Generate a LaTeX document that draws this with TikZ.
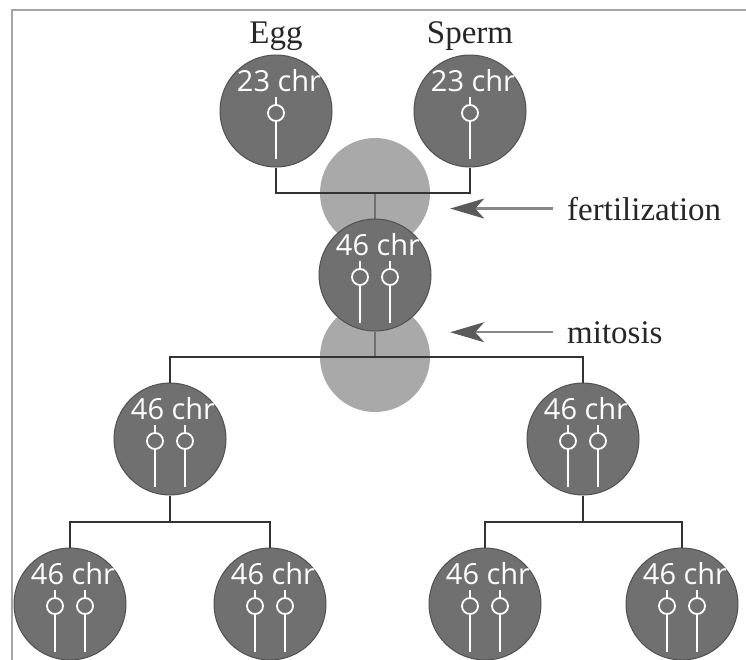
\documentclass[tikz,border=0pt]{standalone}
\usepackage{fontspec}
\setmainfont{Liberation Serif}
\newfontfamily\chrfont{Open Sans}
\usepackage{tikz}
\usetikzlibrary{arrows.meta,calc,backgrounds}
\definecolor{cellFill}{RGB}{112,112,112}
\definecolor{cellStroke}{RGB}{80,80,80}
\definecolor{fuseFill}{RGB}{136,136,136}
\definecolor{frameGray}{RGB}{165,165,165}
\definecolor{pointerGray}{RGB}{135,135,135}
\definecolor{pointerHead}{RGB}{90,90,90}
\colorlet{ink}{black!80}
\tikzset{
  cell/.style={
    circle,
    draw=cellStroke,
    fill=cellFill,
    line width=1pt,
    minimum size=112pt,
    inner sep=0pt
  },
  fuse/.style={
    circle,
    fill=fuseFill,
    fill opacity=0.72,
    minimum size=110pt,
    inner sep=0pt
  },
  count/.style={font=\chrfont\fontsize{29}{32}\selectfont, text=white, inner sep=0pt, anchor=base},
  chromo/.style={draw=white, line width=1.8pt},
  link/.style={draw=ink, line width=2.2pt},
  pointer/.style={-{Stealth[length=34pt,width=20pt,inset=9pt,color=pointerHead]}, draw=pointerGray, line width=2.2pt},
  tag/.style={font=\fontsize{33}{36}\selectfont, text=black!85, inner sep=0pt}
}
% one chromosome inside cell #1, moved sideways by #2
\newcommand{\ChromoAt}[2]{%
  \draw[chromo] ($(#1)+(#2,-14)$) -- ($(#1)+(#2,-6)$)
                ($(#1)+(#2,10)$) -- ($(#1)+(#2,48)$);
  \draw[chromo] ($(#1)+(#2,2)$) circle[radius=8pt];
}
\newcommand{\Haploid}[1]{%
  \node[count] (#1num) at ($(#1)+(3,-20)$) {23 chr};
  \ChromoAt{#1}{0}
}
\newcommand{\Diploid}[1]{%
  \node[count] (#1num) at ($(#1)+(3,-20)$) {46 chr};
  \ChromoAt{#1}{-15}\ChromoAt{#1}{15}
}

\begin{document}
\begin{tikzpicture}[x=1pt,y=-1pt]
  \useasboundingbox (0,0) rectangle (746,659);
  \clip (0,0) rectangle (746,659);
  \draw[frameGray, line width=2pt] (12,665) -- (12,10) -- (750,10);

  % gametes
  \node[cell] (egg) at (276,111) {};
  \node[cell] (sperm) at (470,111) {};
  \node[tag, anchor=base] (eggtag) at (276,43) {Egg};
  \node[tag, anchor=base] (spermtag) at (470,43) {Sperm};
  \Haploid{egg}
  \Haploid{sperm}

  % fertilization and first division
  \node[fuse] (fuse1) at (375,193) {};
  \node[fuse] (fuse2) at (375,357) {};
  \node[cell] (zygote) at (375,275) {};
  \Diploid{zygote}

  % second generation
  \node[cell] (left) at (170,439) {};
  \node[cell] (right) at (583,439) {};
  \Diploid{left}
  \Diploid{right}

  % third generation
  \node[cell] (ll) at (70,604) {};
  \node[cell] (lr) at (270,604) {};
  \node[cell] (rl) at (485,604) {};
  \node[cell] (rr) at (682,604) {};
  \Diploid{ll}
  \Diploid{lr}
  \Diploid{rl}
  \Diploid{rr}

  \coordinate (lfork) at (170,522);
  \coordinate (rfork) at (583,522);

  % lineage
  \begin{scope}[on background layer]
    \draw[link] (fuse1.center) -- (zygote.north);
    \draw[link] (zygote.south) -- (fuse2.center);
  \end{scope}
  \draw[link] (egg.south) |- (fuse1.center) -| (sperm.south);
  \draw[link] (left.north) |- (fuse2.center) -| (right.north);
  \draw[link] (left.south) -- (lfork);
  \draw[link] (ll.north) |- (lfork) -| (lr.north);
  \draw[link] (right.south) -- (rfork);
  \draw[link] (rl.north) |- (rfork) -| (rr.north);

  % stage labels
  \node[tag, anchor=base west] (fertag) at (567,220) {fertilization};
  \node[tag, anchor=base west] (mitag) at (567,343) {mitosis};
  \draw[pointer, shorten <=14pt, shorten >=20pt] (fertag.west) -- (fertag.west -| fuse1.east);
  \draw[pointer, shorten <=14pt, shorten >=20pt] (mitag.west) -- (mitag.west -| fuse2.east);
\end{tikzpicture}
\end{document}
